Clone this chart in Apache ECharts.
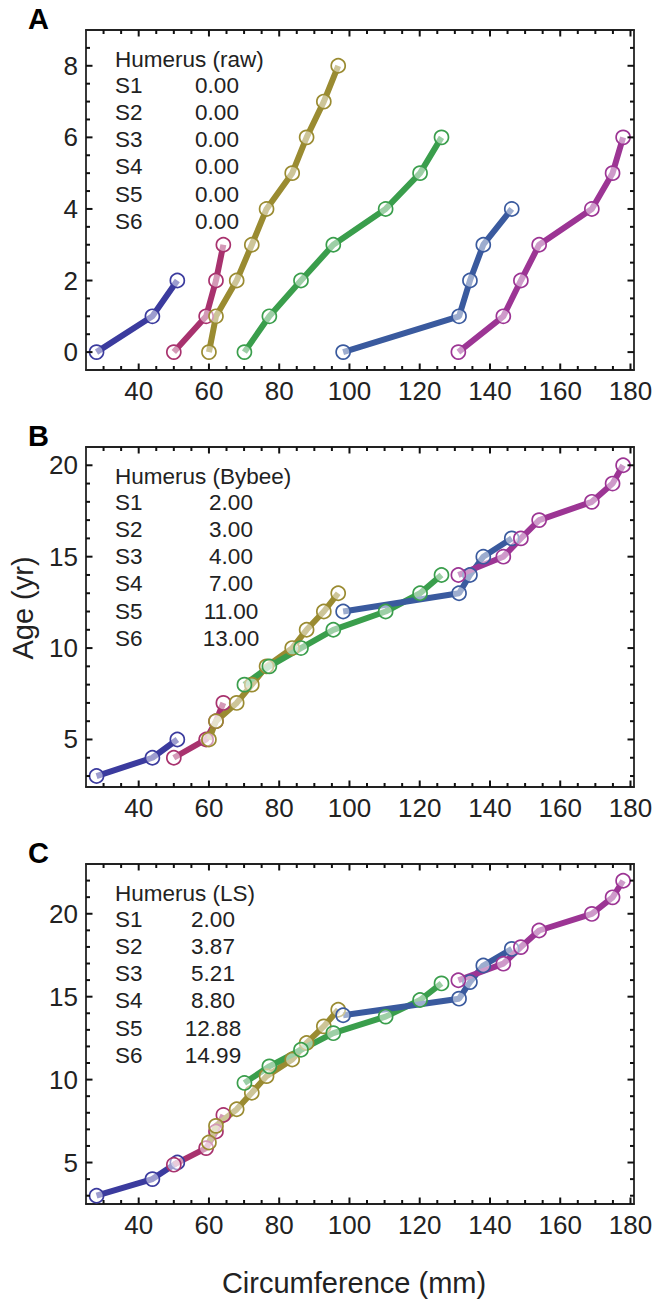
<!DOCTYPE html>
<html><head><meta charset="utf-8">
<script src="https://cdn.jsdelivr.net/npm/echarts@6/dist/echarts.min.js"></script>
<style>html,body{margin:0;padding:0;background:#fff}#c{width:658px;height:1303px}</style>
</head><body><div id="c"></div>
<script>
// Circumference (mm) for each specimen (shared by all three panels)
const circS1 = [28.0, 43.9, 51.0];
const circS2 = [50.0, 59.2, 62.0, 64.1];
const circS3 = [60.0, 62.0, 67.9, 72.2, 76.4, 83.7, 87.8, 92.7, 96.8];
const circS4 = [70.1, 77.2, 86.2, 95.4, 110.3, 120.1, 126.2];
const circS5 = [98.2, 131.2, 134.3, 138.1, 146.2];
const circS6 = [131.0, 143.8, 148.8, 154.0, 169.0, 174.9, 177.9];

// Panel A: raw ages
const ageA_S1 = [0, 1, 2];
const ageA_S2 = [0, 1, 2, 3];
const ageA_S3 = [0, 1, 2, 3, 4, 5, 6, 7, 8];
const ageA_S4 = [0, 1, 2, 3, 4, 5, 6];
const ageA_S5 = [0, 1, 2, 3, 4];
const ageA_S6 = [0, 1, 2, 3, 4, 5, 6];

// Panel B: Bybee ages
const ageB_S1 = [3, 4, 5];
const ageB_S2 = [4, 5, 6, 7];
const ageB_S3 = [5, 6, 7, 8, 9, 10, 11, 12, 13];
const ageB_S4 = [8, 9, 10, 11, 12, 13, 14];
const ageB_S5 = [12, 13, 14, 15, 16];
const ageB_S6 = [14, 15, 16, 17, 18, 19, 20];

// Panel C: LS ages
const ageC_S1 = [3, 4, 5];
const ageC_S2 = [4.87, 5.87, 6.87, 7.87];
const ageC_S3 = [6.21, 7.21, 8.21, 9.21, 10.21, 11.21, 12.21, 13.21, 14.21];
const ageC_S4 = [9.80, 10.80, 11.80, 12.80, 13.80, 14.80, 15.80];
const ageC_S5 = [13.88, 14.88, 15.88, 16.88, 17.88];
const ageC_S6 = [15.99, 16.99, 17.99, 18.99, 19.99, 20.99, 21.99];

// Legend texts
const specimenNames = ['S1', 'S2', 'S3', 'S4', 'S5', 'S6'];
const legendTitles = ['Humerus (raw)', 'Humerus (Bybee)', 'Humerus (LS)'];
const legendA = ['0.00', '0.00', '0.00', '0.00', '0.00', '0.00'];
const legendB = ['2.00', '3.00', '4.00', '7.00', '11.00', '13.00'];
const legendC = ['2.00', '3.87', '5.21', '8.80', '12.88', '14.99'];
const panelLetters = ['A', 'B', 'C'];

// Tick values
const xMajor = [40, 60, 80, 100, 120, 140, 160, 180];
const xMinor = [30, 35, 45, 50, 55, 65, 70, 75, 85, 90, 95, 105, 110, 115, 125, 130, 135, 145, 150, 155, 165, 170, 175];
const yMajorA = [0, 2, 4, 6, 8];
const yMinorA = [0.5, 1, 1.5, 2.5, 3, 3.5, 4.5, 5, 5.5, 6.5, 7, 7.5, 8.5];
const yMajorBC = [5, 10, 15, 20];
const yMinorB = [3, 4, 6, 7, 8, 9, 11, 12, 13, 14, 16, 17, 18, 19];
const yMinorC = [3, 4, 6, 7, 8, 9, 11, 12, 13, 14, 16, 17, 18, 19, 21, 22];

const colors = ['#3b3b9e', '#a8326e', '#9a8b31', '#3a9e4c', '#3a5a9e', '#9c3594'];
const circs = [circS1, circS2, circS3, circS4, circS5, circS6];
const agesPanels = [
  [ageA_S1, ageA_S2, ageA_S3, ageA_S4, ageA_S5, ageA_S6],
  [ageB_S1, ageB_S2, ageB_S3, ageB_S4, ageB_S5, ageB_S6],
  [ageC_S1, ageC_S2, ageC_S3, ageC_S4, ageC_S5, ageC_S6]
];
const legendVals = [legendA, legendB, legendC];
const xRange = [25, 181];
const yRanges = [[-0.5, 9], [2.4, 21], [2.5, 23]];
const yMajors = [yMajorA, yMajorBC, yMajorBC];
const yMinors = [yMinorA, yMinorB, yMinorC];

const FONT = 'Liberation Sans, Arial, sans-serif';
const TXT = '#222';
const gridTops = [30, 447, 864];
const gridLeft = 86, gridW = 548, gridH = 340;
const valX = [217, 231, 213];
const MAJ = 6.5, MIN = 4, TW = 2;

const grids = [], xAxes = [], yAxes = [], series = [], graphics = [];

function frameAxis(p, pos, range, labelVals) {
  return {
    type: 'value', gridIndex: p, position: pos, min: range[0], max: range[1],
    axisLine: { show: true, onZero: false, lineStyle: { color: '#222', width: 1.8 } },
    splitLine: { show: false }, axisTick: { show: false },
    axisLabel: labelVals ? { show: true, customValues: labelVals, fontSize: 26, color: TXT,
                             fontFamily: FONT, margin: 8 } : { show: false }
  };
}
// inward tick marks placed through the axes' own scales (small rect symbols anchored on the frame)
function tickSeries(xi, yi, data, size, offset) {
  return {
    type: 'scatter', xAxisIndex: xi, yAxisIndex: yi, data: data,
    symbol: 'rect', symbolSize: size, symbolOffset: offset,
    itemStyle: { color: '#111', opacity: 1 }, silent: true, clip: false, animation: false,
    z: 10, emphasis: { disabled: true }
  };
}

for (let p = 0; p < 3; p++) {
  grids.push({ left: gridLeft, top: gridTops[p], width: gridW, height: gridH, show: false });
  const yr = yRanges[p];
  const xb = xAxes.length;
  xAxes.push(frameAxis(p, 'bottom', xRange, xMajor));
  xAxes.push(frameAxis(p, 'top', xRange, null));
  const yb = yAxes.length;
  yAxes.push(frameAxis(p, 'left', yr, yMajors[p]));
  yAxes.push(frameAxis(p, 'right', yr, null));
  for (let s = 0; s < 6; s++) {
    series.push({
      type: 'line', xAxisIndex: xb, yAxisIndex: yb, name: specimenNames[s],
      data: circs[s].map((c, i) => [c, agesPanels[p][s][i]]),
      symbol: 'circle', symbolSize: 14, showAllSymbol: true,
      lineStyle: { color: colors[s], width: 6 },
      itemStyle: { color: 'rgba(255,255,255,0.5)', borderColor: colors[s], borderWidth: 1.7 },
      emphasis: { disabled: true }, animation: false, z: 2
    });
  }
  // ticks on all four sides
  [[xMajor, MAJ], [xMinor, MIN]].forEach(([vals, L]) => {
    series.push(tickSeries(xb, yb, vals.map(v => [v, yr[0]]), [TW, L], [0, -L / 2]));
    series.push(tickSeries(xb, yb, vals.map(v => [v, yr[1]]), [TW, L], [0, L / 2]));
  });
  [[yMajors[p], MAJ], [yMinors[p], MIN]].forEach(([vals, L]) => {
    series.push(tickSeries(xb, yb, vals.map(v => [xRange[0], v]), [L, TW], [L / 2, 0]));
    series.push(tickSeries(xb, yb, vals.map(v => [xRange[1], v]), [L, TW], [-L / 2, 0]));
  });

  const top = gridTops[p];
  graphics.push({ type: 'text', x: 28, y: top - 11, style: { text: panelLetters[p], font: 'bold 29px ' + FONT,
                  fill: '#000', textVerticalAlign: 'middle' } });
  graphics.push({ type: 'text', x: 115, y: top + 29, style: { text: legendTitles[p], font: '22.5px ' + FONT,
                  fill: TXT, textVerticalAlign: 'middle' } });
  for (let s = 0; s < 6; s++) {
    const yy = top + 55 + s * 27.3;
    graphics.push({ type: 'text', x: 115, y: yy, style: { text: specimenNames[s], font: '22.5px ' + FONT,
                    fill: TXT, textVerticalAlign: 'middle' } });
    graphics.push({ type: 'text', x: valX[p], y: yy, style: { text: legendVals[p][s], font: '22.5px ' + FONT,
                    fill: TXT, textAlign: 'center', textVerticalAlign: 'middle' } });
  }
}
graphics.push({ type: 'text', x: 23, y: 608, rotation: Math.PI / 2,
                style: { text: 'Age (yr)', font: '29px ' + FONT, fill: TXT, textAlign: 'center', textVerticalAlign: 'middle' } });
graphics.push({ type: 'text', x: 354, y: 1283,
                style: { text: 'Circumference (mm)', font: '29px ' + FONT, fill: TXT, textAlign: 'center', textVerticalAlign: 'middle' } });

const chart = echarts.init(document.getElementById('c'), null, { renderer: 'svg' });
chart.setOption({
  animation: false,
  grid: grids, xAxis: xAxes, yAxis: yAxes, series: series, graphic: graphics
});
</script></body></html>
